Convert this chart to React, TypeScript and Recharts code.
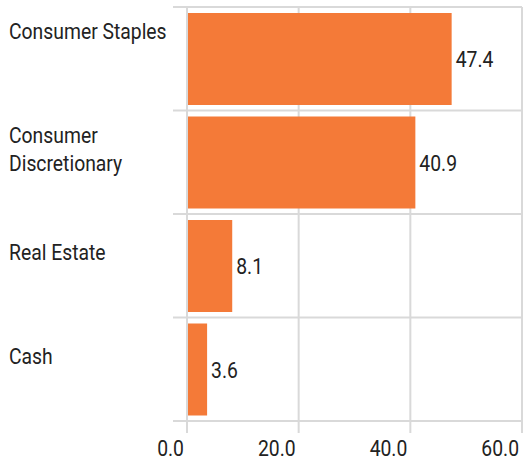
import { Bar, BarChart, CartesianGrid, LabelList, XAxis, YAxis } from "recharts";

const categories = ["Consumer Staples", "Consumer Discretionary", "Real Estate", "Cash"];
const weights = [47.4, 40.9, 8.1, 3.6];
const xTicks = [0, 20, 40, 60];

const data = categories.map((name, i) => ({ name, value: weights[i] }));

const W = 524;
const H = 461;
const MARGIN = { top: 7, right: 2, left: 0, bottom: 0 };
const X_AXIS_H = 40;
const Y_AXIS_W = 187;
const PLOT_H = H - MARGIN.top - MARGIN.bottom - X_AXIS_H;
const BAND = PLOT_H / categories.length;
const GRID = "#d9d9d9";
const INK = "#222";
const FONT = "Roboto, 'Liberation Sans', sans-serif";
const FS = 22.5;
const SQUEEZE = "scale(0.86,1)";

function wrap(label: string) {
  return label.length > 16 ? label.split(" ") : [label];
}

function CategoryTick(props: any) {
  const { y, payload, index } = props;
  const top = y - BAND / 2;
  const label = String(payload.value);
  const lines = wrap(label);
  // long names sit near the top of their band, short ones lower
  const baseline = top + (label.length > 12 ? 32 : 46);
  return (
    <g>
      <line x1={173} x2={Y_AXIS_W} y1={top} y2={top} stroke={GRID} strokeWidth={2} />
      {index === categories.length - 1 && (
        <line x1={173} x2={Y_AXIS_W} y1={top + BAND} y2={top + BAND} stroke={GRID} strokeWidth={2} />
      )}
      <text transform={`translate(9, ${baseline}) ${SQUEEZE}`} fill={INK} fontSize={FS} fontFamily={FONT}>
        {lines.map((l, i) => (
          <tspan key={i} x={0} y={i * 29}>
            {l}
          </tspan>
        ))}
      </text>
    </g>
  );
}

function ValueTick(props: any) {
  const { x, payload } = props;
  return (
    <text
      transform={`translate(${x - 3}, 456) ${SQUEEZE}`}
      textAnchor="end"
      fill={INK}
      fontSize={FS}
      fontFamily={FONT}
    >
      {Number(payload.value).toFixed(1)}
    </text>
  );
}

function BarValue(props: any) {
  const { x, y, width, height, value } = props;
  return (
    <text
      transform={`translate(${x + width + 4}, ${y + height / 2 + 8}) ${SQUEEZE}`}
      fill={INK}
      fontSize={FS}
      fontFamily={FONT}
    >
      {Number(value).toFixed(1)}
    </text>
  );
}

export default function App() {
  return (
    <div style={{ position: "absolute", left: 0, top: 0, width: W, height: H, background: "#fff" }}>
      <BarChart width={W} height={H} data={data} layout="vertical" margin={MARGIN} barSize={92}>
        <CartesianGrid
          stroke={GRID}
          strokeWidth={2}
          horizontalCoordinatesGenerator={({ offset }: any) =>
            categories
              .map((_, i) => offset.top + i * (offset.height / categories.length))
              .concat(offset.top + offset.height)
          }
        />
        <XAxis
          type="number"
          domain={[0, 60]}
          ticks={xTicks}
          height={X_AXIS_H}
          tick={<ValueTick />}
          tickSize={12}
          tickLine={{ stroke: GRID, strokeWidth: 2 }}
          axisLine={{ stroke: GRID, strokeWidth: 2 }}
          interval={0}
        />
        <YAxis
          type="category"
          dataKey="name"
          width={Y_AXIS_W}
          tick={<CategoryTick />}
          tickLine={false}
          axisLine={{ stroke: GRID, strokeWidth: 2 }}
          interval={0}
        />
        <Bar dataKey="value" fill="#f47a38" isAnimationActive={false}>
          <LabelList dataKey="value" content={<BarValue />} />
        </Bar>
      </BarChart>
    </div>
  );
}
